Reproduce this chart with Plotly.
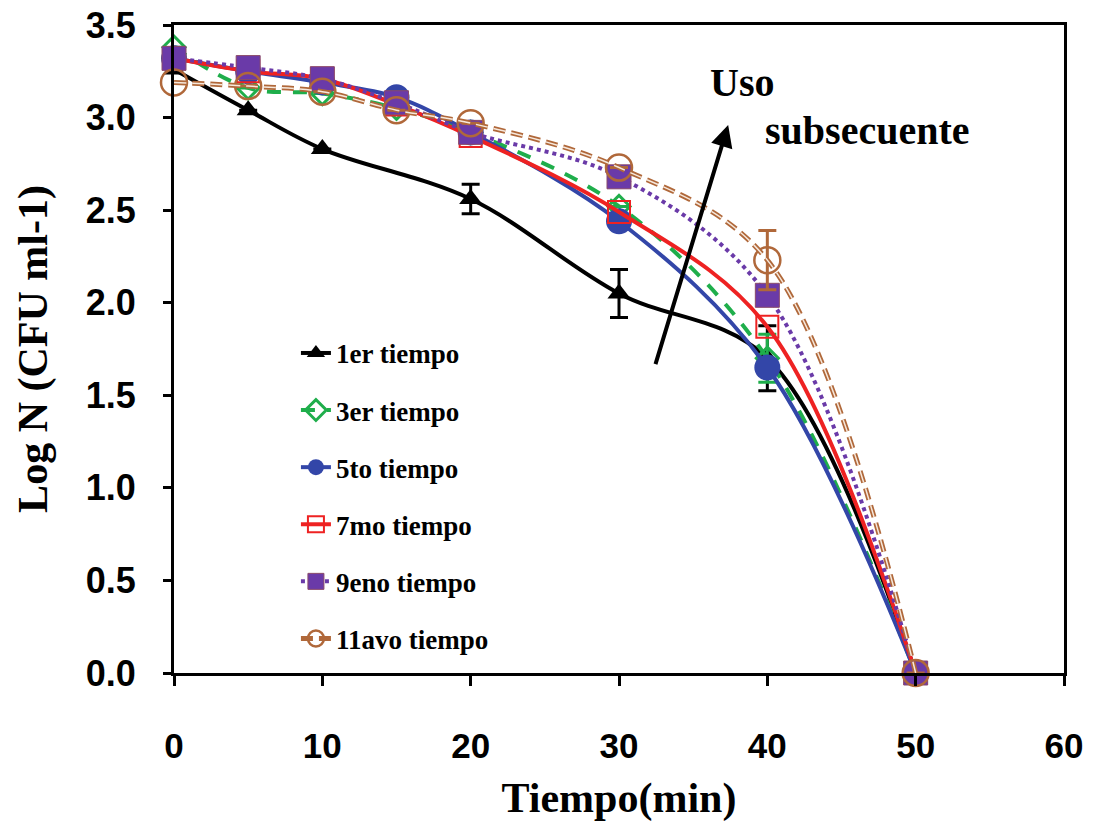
import plotly.graph_objects as go

# ---- data ----
t_1er = [0, 5, 10, 20, 30, 40, 50]
y_1er = [3.26, 3.04, 2.83, 2.56, 2.05, 1.70, 0.0]
e_1er = [0, 0, 0, 0.08, 0.13, 0.175, 0]

t_all = [0, 5, 10, 15, 20, 30, 40, 50]
y_3er = [3.38, 3.16, 3.13, 3.05, 2.92, 2.52, 1.70, 0.0]
e_3er = [0, 0, 0, 0, 0, 0, 0.13, 0]
y_5to = [3.32, 3.25, 3.19, 3.11, 2.92, 2.44, 1.65, 0.0]
y_7mo = [3.32, 3.25, 3.21, 3.07, 2.90, 2.49, 1.87, 0.0]
y_9eno = [3.32, 3.27, 3.21, 3.08, 2.92, 2.68, 2.04, 0.0]
y_11avo = [3.19, 3.17, 3.14, 3.04, 2.97, 2.73, 2.23, 0.0]
e_11avo = [0, 0, 0, 0, 0, 0, 0.16, 0]

names = ["1er tiempo", "3er tiempo", "5to tiempo", "7mo tiempo", "9eno tiempo", "11avo tiempo"]
x_ticks = [0, 10, 20, 30, 40, 50, 60]
y_ticks = [0.0, 0.5, 1.0, 1.5, 2.0, 2.5, 3.0, 3.5]

BLACK = "#000000"
GREEN = "#1fae4b"
BLUE = "#3346a8"
RED = "#ee2222"
PURPLE = "#6a3aa8"
BROWN = "#b0683a"

fig = go.Figure()

fig.add_trace(go.Scatter(
    x=t_1er, y=y_1er, name=names[0], mode="lines+markers", legendgroup="a", cliponaxis=False,
    line=dict(color=BLACK, width=4, shape="spline", smoothing=1.0),
    marker=dict(symbol="triangle-up", size=20, color=BLACK),
    error_y=dict(type="data", array=e_1er, color=BLACK, thickness=3, width=9),
))
fig.add_trace(go.Scatter(
    x=t_all, y=y_3er, name=names[1], mode="lines+markers", legendgroup="b", cliponaxis=False,
    line=dict(color=GREEN, width=4, dash="14px,12px", shape="spline", smoothing=1.0),
    marker=dict(symbol="diamond-open", size=17, color=GREEN, line=dict(width=3)),
    error_y=dict(type="data", array=e_3er, color=GREEN, thickness=3, width=9),
))
fig.add_trace(go.Scatter(
    x=t_all, y=y_5to, name=names[2], mode="lines+markers", legendgroup="c", cliponaxis=False,
    line=dict(color=BLUE, width=4, shape="spline", smoothing=1.0),
    marker=dict(symbol="circle", size=26, color=BLUE),
))
fig.add_trace(go.Scatter(
    x=t_all, y=y_7mo, name=names[3], mode="lines+markers", legendgroup="d", cliponaxis=False,
    line=dict(color=RED, width=4, shape="spline", smoothing=1.0),
    marker=dict(symbol="square-open", size=22, color=RED, line=dict(width=2)),
))
fig.add_trace(go.Scatter(
    x=t_all, y=y_9eno, name=names[4], mode="lines+markers", legendgroup="e", cliponaxis=False,
    line=dict(color=PURPLE, width=4, dash="dot", shape="spline", smoothing=1.0),
    marker=dict(symbol="square", size=24, color=PURPLE, line=dict(color="#8a4a6a", width=1)),
))
fig.add_trace(go.Scatter(
    x=t_all, y=y_11avo, name=names[5], mode="lines+markers", legendgroup="f", cliponaxis=False,
    line=dict(color=BROWN, width=5, dash="12px,6px", shape="spline", smoothing=1.0),
    marker=dict(symbol="circle-open", size=26, color=BROWN, line=dict(width=2.5)),
    error_y=dict(type="data", array=e_11avo, color=BROWN, thickness=3, width=9),
))
# hollow look of the brown dashed line
fig.add_trace(go.Scatter(
    x=t_all, y=y_11avo, mode="lines", showlegend=False, hoverinfo="skip",
    line=dict(color="#f6e8dc", width=1.5, dash="12px,6px", shape="spline", smoothing=1.0),
))

serif = "Liberation Serif, Times New Roman, serif"
sans = "Liberation Sans, Arial, sans-serif"

fig.add_annotation(
    x=37.36, y=2.96, xref="x", yref="y",
    ax=32.43, ay=1.66, axref="x", ayref="y",
    showarrow=True, arrowhead=2, arrowsize=1.1, arrowwidth=4, arrowcolor=BLACK, text="",
)
fig.add_annotation(x=38.3, y=3.19, xref="x", yref="y", text="Uso", showarrow=False,
                   font=dict(family=serif, size=40, color=BLACK, weight="bold"))
fig.add_annotation(x=46.7, y=2.93, xref="x", yref="y", text="subsecuente", showarrow=False,
                   font=dict(family=serif, size=40, color=BLACK, weight="bold"))

fig.update_layout(
    width=1093, height=822,
    margin=dict(l=174, r=29, t=25, b=149, autoexpand=False),
    paper_bgcolor="white", plot_bgcolor="white",
    showlegend=True,
    legend=dict(
        x=0.137, y=0.531, xanchor="left", yanchor="top",
        bgcolor="rgba(0,0,0,0)", tracegroupgap=19,
        font=dict(family=serif, size=27, color=BLACK, weight="bold"),
    ),
    xaxis=dict(
        range=[0, 60], tickvals=x_ticks, ticktext=[str(v) for v in x_ticks],
        showline=True, linecolor=BLACK, linewidth=3, mirror=True,
        ticks="outside", ticklen=10, tickwidth=3, tickcolor=BLACK,
        showgrid=False, zeroline=False, ticklabelstandoff=30, automargin=False,
        tickfont=dict(family=sans, size=35, color=BLACK, weight="bold"),
        title=dict(text="Tiempo(min)", standoff=32,
                   font=dict(family=serif, size=42, color=BLACK, weight="bold")),
    ),
    yaxis=dict(
        range=[0, 3.5], tickvals=y_ticks, ticktext=[f"{v:.1f}" for v in y_ticks],
        showline=True, linecolor=BLACK, linewidth=3, mirror=True,
        ticks="outside", ticklen=8, tickwidth=3, tickcolor=BLACK,
        showgrid=False, zeroline=False, ticklabelstandoff=20, automargin=False,
        tickfont=dict(family=sans, size=36, color=BLACK, weight="bold"),
        title=dict(text="Log N (CFU ml-1)", standoff=26,
                   font=dict(family=serif, size=42, color=BLACK, weight="bold")),
    ),
)

fig.write_html("out.html")
